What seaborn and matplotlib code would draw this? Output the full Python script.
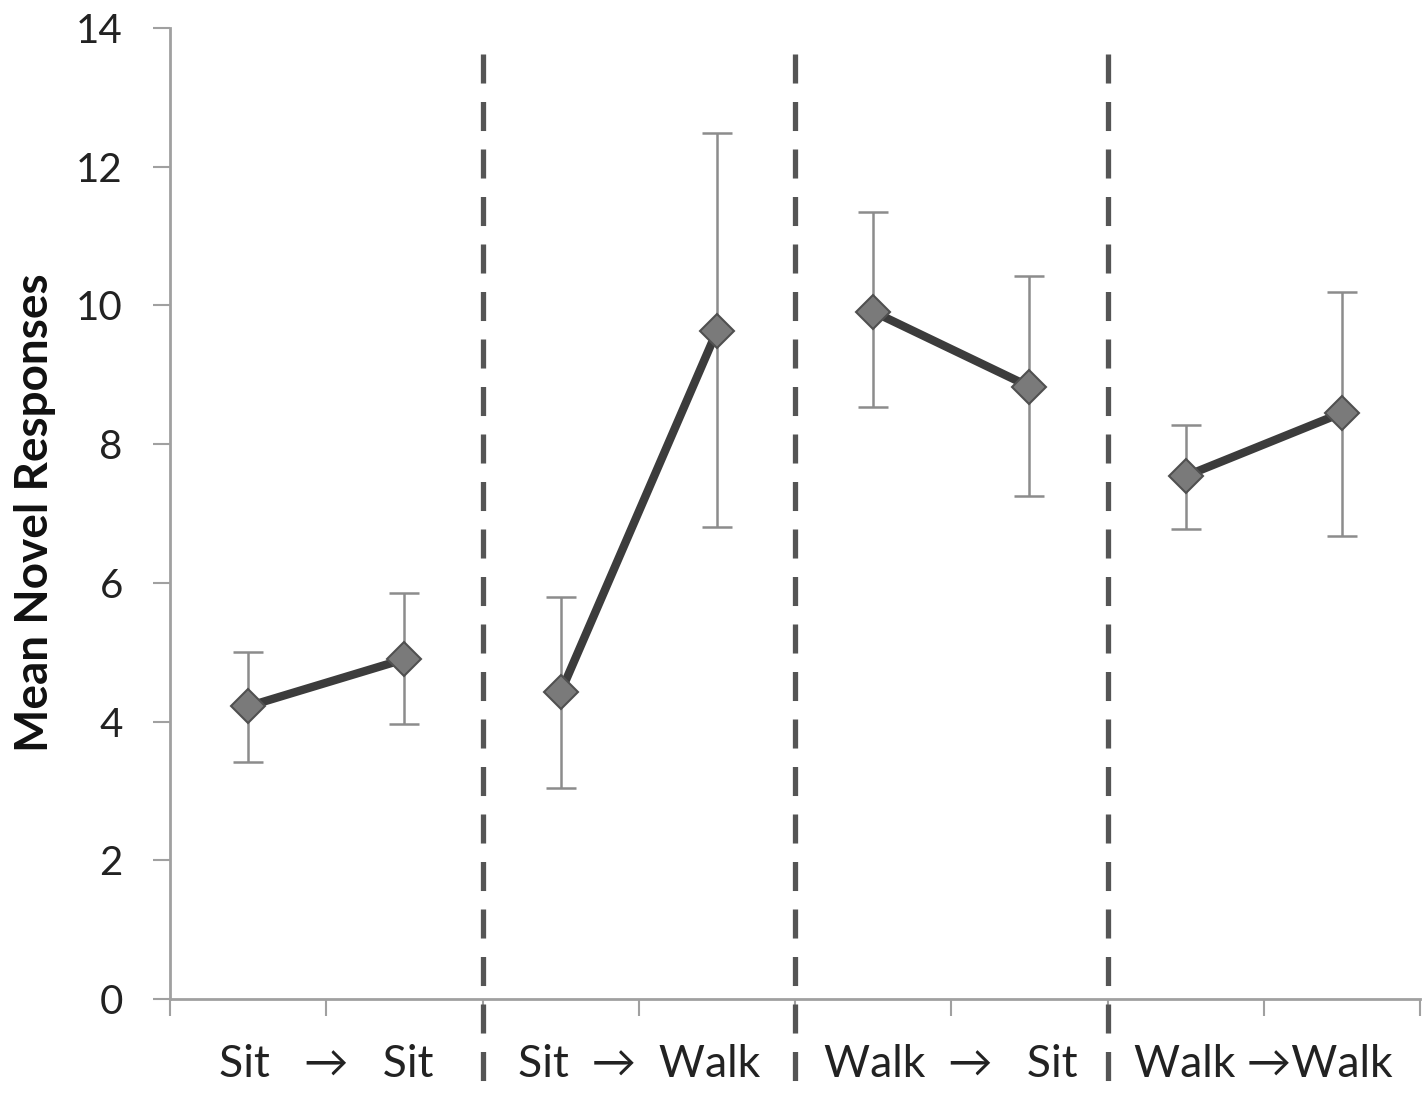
import matplotlib

matplotlib.use("Agg")
import pandas as pd
import seaborn as sns
import matplotlib.pyplot as plt

# values
conditions = ["Sit   \u2192   Sit", "Sit  \u2192  Walk", "Walk  \u2192   Sit", "Walk \u2192Walk"]
means = [4.22, 4.90, 4.42, 9.63, 9.91, 8.83, 7.54, 8.45]
upper = [5.01, 5.85, 5.79, 12.48, 11.34, 10.42, 8.28, 10.20]
lower = [3.41, 3.96, 3.04, 6.80, 8.53, 7.25, 6.77, 6.67]
y_ticks = [0, 2, 4, 6, 8, 10, 12, 14]

df = pd.DataFrame({
    "pos": list(range(len(means))),
    "mean": means,
    "pair": [conditions[i // 2] for i in range(len(means))],
})
df["err_lo"] = df["mean"] - pd.Series(lower)
df["err_hi"] = pd.Series(upper) - df["mean"]

sns.set_style("white")
plt.rcParams["font.family"] = ["Lato", "DejaVu Sans"]

fig = plt.figure(figsize=(14.22, 10.99), dpi=100)
ax = fig.add_axes([170 / 1422, 100 / 1099, 1250 / 1422, 971 / 1099])

# error bars behind the lines
ax.errorbar(df["pos"], df["mean"], yerr=[df["err_lo"], df["err_hi"]],
            fmt="none", ecolor="#8c8c8c", elinewidth=1.8, capsize=11,
            capthick=1.8, zorder=1)

sns.lineplot(data=df, x="pos", y="mean", units="pair", estimator=None,
             color="#3c3c3c", linewidth=6, marker="D", markersize=17,
             markerfacecolor="#7a7a7a", markeredgecolor="#505050",
             markeredgewidth=1.5, ax=ax, zorder=3, legend=False)

# dashed separators between conditions, drawn from the top down
for b in [1.5, 3.5, 5.5]:
    ax.plot([b, b], [13.62, -1.45], color="#555555", linewidth=3.8,
            linestyle=(0, (5.5, 3.5)), clip_on=False, zorder=2)

ax.set_xlim(-0.5, 7.5)
ax.set_ylim(0, 14)
ax.set_yticks(y_ticks)
ax.tick_params(axis="y", labelsize=29, length=12, width=1.5,
               color="#a0a0a0", pad=22, labelcolor="#222222", left=True)

ax.set_xticks([i - 0.5 for i in range(9)])
ax.set_xticklabels([])
ax.tick_params(axis="x", length=12, width=1.5, color="#a0a0a0",
               bottom=True, direction="out")

# condition labels centred under each pair
for i, name in enumerate(conditions):
    ax.text(2 * i + 0.5, -0.067, name, transform=ax.get_xaxis_transform(),
            ha="center", va="center", fontsize=32, color="#222222",
            family=["Lato", "DejaVu Sans"])

for side in ["top", "right"]:
    ax.spines[side].set_visible(False)
for side in ["left", "bottom"]:
    ax.spines[side].set_color("#a0a0a0")
    ax.spines[side].set_linewidth(2)

ax.set_xlabel("")
ax.set_ylabel("")
fig.text(35 / 1422, 1 - 513 / 1099, "Mean Novel Responses", rotation=90,
         ha="center", va="center", fontsize=33, fontweight="bold",
         color="#111111")

fig.savefig("out.png", dpi=100)
